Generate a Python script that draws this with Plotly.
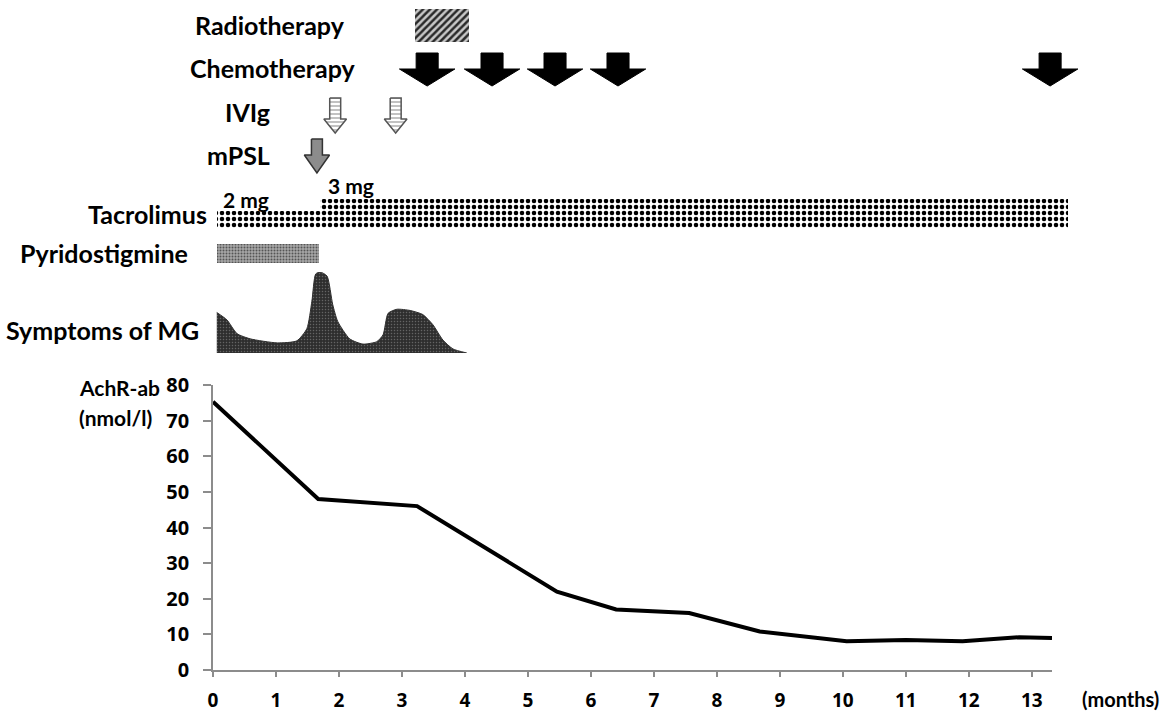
import plotly.graph_objects as go

# ---------------- data ----------------
# AchR antibody titre (nmol/l) over months
ab_months = [0, 1.67, 3.24, 5.46, 6.4, 7.56, 8.68, 10.06, 11.0, 11.9, 12.8, 13.32]
ab_values = [75.3, 48, 46, 22, 17, 16, 10.8, 8.1, 8.4, 8.1, 9.2, 9.0]

# Symptoms of MG (relative severity, 0-10)
sym_months = [0.06, 0.22, 0.38, 0.59, 1.02, 1.33, 1.49, 1.57, 1.63, 1.70, 1.81, 1.90,
              1.98, 2.17, 2.38, 2.60, 2.70, 2.78, 2.92, 3.13, 3.33, 3.49, 3.65, 3.81, 4.03]
sym_level = [5.0, 4.1, 2.4, 1.75, 1.25, 1.5, 3.0, 6.4, 9.75, 10.0, 9.5, 6.0,
             3.9, 1.75, 1.1, 1.4, 2.25, 4.9, 5.4, 5.25, 4.75, 3.5, 1.6, 0.5, 0.0]

radio_period = [3.2, 4.06]
chemo_months = [3.4, 4.43, 5.43, 6.43, 13.29]
ivig_months = [1.94, 2.90]
mpsl_months = [1.65]
tac_2mg = [0.06, 1.70]
tac_3mg = [1.70, 13.57]
pyrido_period = [0.06, 1.68]

x_ticks = list(range(0, 14))
y_ticks = list(range(0, 81, 10))

# ---------------- geometry ----------------
W, H = 1171, 715
ML, MR, MT, MB = 213, 91, 0, 45
PW, PH = W - ML - MR, H - MT - MB
X_END = 13.32
x_dom_end = (1052 - ML) / PW
x2_end = X_END / x_dom_end

def px(xp):
    return (xp - ML) / PW

def py(yp):
    return (PH - yp) / PH

LABEL_FONT = "Lato"
TICK_FONT = "Noto Sans"

fig = go.Figure()

# ---- AchR-ab line ----
fig.add_trace(go.Scatter(x=ab_months, y=ab_values, mode="lines",
                         line=dict(color="black", width=4), xaxis="x", yaxis="y",
                         showlegend=False, hoverinfo="x+y"))

# ---- timeline bars ----
def hbar(period, yc, h, pattern):
    fig.add_trace(go.Bar(orientation="h", base=[period[0]], x=[period[1] - period[0]],
                         y=[yc], width=[h], xaxis="x2", yaxis="y2",
                         marker=dict(color=pattern.get("bgcolor", "white"),
                                     line=dict(width=0), pattern=pattern),
                         showlegend=False, hoverinfo="skip"))

hbar(radio_period, 25.5, 33, dict(shape="/", fgcolor="#2a2a2a", bgcolor="#c8c8c8",
                                  size=5, solidity=0.5, fillmode="replace"))
hbar(tac_2mg, 219.5, 17, dict(shape=".", fgcolor="black", bgcolor="white",
                              size=6, solidity=0.45, fillmode="replace"))
hbar(tac_3mg, 213.5, 29, dict(shape=".", fgcolor="black", bgcolor="white",
                              size=6, solidity=0.45, fillmode="replace"))
hbar(pyrido_period, 253.5, 19, dict(shape=".", fgcolor="#555555", bgcolor="#a8a8a8",
                                    size=3, solidity=0.35, fillmode="replace"))

# ---- arrows ----
def arrow(c, top, hs, tip, sw, hw, fill, line_color, line_w, pattern=None):
    xs = [c - sw, c + sw, c + sw, c + hw, c, c - hw, c - sw, c - sw]
    ys = [top, top, hs, hs, tip, hs, hs, top]
    kw = dict(x=xs, y=ys, mode="lines", fill="toself", fillcolor=fill,
              line=dict(color=line_color, width=line_w), xaxis="x2", yaxis="y2",
              showlegend=False, hoverinfo="skip")
    if pattern:
        kw["fillpattern"] = pattern
    fig.add_trace(go.Scatter(**kw))

for m in chemo_months:
    arrow(m, 53, 69, 86, 0.175, 0.44, "black", "black", 1)
for m in ivig_months:
    arrow(m, 98, 119, 133, 0.087, 0.18, "white", "#555555", 1.5,
          dict(shape="-", fgcolor="#666666", bgcolor="white", size=4, solidity=0.4))
for m in mpsl_months:
    arrow(m, 139, 155, 173, 0.087, 0.2, "#8c8c8c", "#333333", 1.5)

# ---- symptoms ----
fig.add_trace(go.Scatter(x=sym_months, y=sym_level, mode="lines", fill="tozeroy",
                         line=dict(color="#2e2e2e", width=1, shape="spline", smoothing=0.6),
                         fillcolor="#333333",
                         fillpattern=dict(shape=".", fgcolor="#9a9a9a", bgcolor="#2e2e2e",
                                          size=3, solidity=0.2),
                         xaxis="x2", yaxis="y3", showlegend=False, hoverinfo="skip"))

# ---------------- annotations ----------------
def label(text, xp, yp, anchor="right", size=25, font=LABEL_FONT):
    fig.add_annotation(text=text, x=px(xp), y=py(yp), xref="paper", yref="paper",
                       xanchor=anchor, yanchor="middle", showarrow=False,
                       font=dict(family=font, size=size, color="black", weight="bold"))

label("Radiotherapy", 347, 25)
label("Chemotherapy", 357, 68)
label("IVIg", 272, 112)
label("mPSL", 272, 155)
label("2 mg", 221, 199, anchor="left", size=21)
label("3 mg", 326, 185, anchor="left", size=21)
label("Tacrolimus", 209, 214, size=25)
label("Pyridostigmine", 190, 253, size=25)
label("Symptoms of MG", 201, 330)
label("AchR-ab", 77, 387, anchor="left", size=21)
label("(nmol/l)", 77, 417, anchor="left", size=21)
label("(months)", 1080, 699, anchor="left", size=20)

# ---------------- layout ----------------
axis_grey = "#8c8c8c"
fig.update_layout(
    width=W, height=H, margin=dict(l=ML, r=MR, t=MT, b=MB, pad=0, autoexpand=False),
    paper_bgcolor="white", plot_bgcolor="white", barmode="overlay", bargap=0,
    xaxis=dict(domain=[0, x_dom_end], range=[0, X_END], tickvals=x_ticks,
               showline=True, linecolor=axis_grey, linewidth=1.5, automargin=False,
               ticks="outside", ticklen=5, tickcolor=axis_grey, tickwidth=1.5,
               showgrid=False, zeroline=False, ticklabelstandoff=7,
               tickfont=dict(family=TICK_FONT, size=19, color="black", weight="bold"),
               anchor="y"),
    yaxis=dict(domain=[0, py(385)], range=[0, 80], tickvals=y_ticks,
               showline=True, linecolor=axis_grey, linewidth=1.5, automargin=False,
               ticks="outside", ticklen=8, tickcolor=axis_grey, tickwidth=1.5,
               showgrid=False, zeroline=False, ticklabelstandoff=10,
               tickfont=dict(family=TICK_FONT, size=20, color="black", weight="bold"),
               anchor="x"),
    xaxis2=dict(domain=[0, 1], range=[0, x2_end], visible=False, anchor="y2",
                automargin=False),
    yaxis2=dict(domain=[py(365), 1], range=[365, 0], visible=False, anchor="x2",
                automargin=False),
    yaxis3=dict(domain=[py(353), py(272)], range=[0, 10], visible=False, anchor="x2",
                automargin=False),
)

fig.write_html("out.html", config={"displayModeBar": False},
               post_script="document.body.style.margin='0';document.body.style.overflow='hidden';")
